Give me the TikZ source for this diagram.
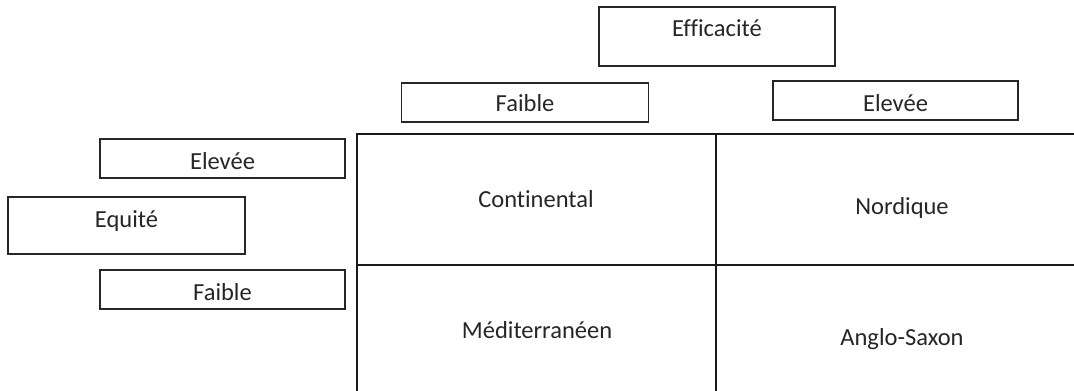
\documentclass[tikz,border=0pt]{standalone}
\usepackage{fontspec}
\setmainfont[Ligatures=NoCommon]{Carlito}
\begin{document}
\begin{tikzpicture}[x=1pt,y=-1pt,
  box/.style={draw=black!85, line width=1.4pt, inner sep=0pt, fill=white},
  cell/.style={draw=black!90, line width=1.4pt, inner sep=0pt},
  lbl/.style={font=\fontsize{24.5}{28}\selectfont, text=black!85, inner sep=0pt, anchor=base}]
\useasboundingbox (0,0) rectangle (1074,391);
\clip (0,0) rectangle (1074,391);
% matrix cells
\node[cell, minimum width=359pt, minimum height=131pt] (c11) at (536.5,199.5) {};
\node[cell, minimum width=372pt, minimum height=131pt] (c12) at (902,199.5) {};
\node[cell, minimum width=359pt, minimum height=134pt] (c21) at (536.5,332) {};
\node[cell, minimum width=372pt, minimum height=134pt] (c22) at (902,332) {};
\node[lbl] (t11) at (536,207) {Continental};
\node[lbl] (t12) at (902,214.7) {Nordique};
\node[lbl] (t21) at (537,338) {Méditerranéen};
\node[lbl] (t22) at (902,345) {Anglo-Saxon};
% header boxes
\node[box, minimum width=236pt, minimum height=59pt] (effb) at (717,36.5) {};
\node[lbl] (efft) at (717,36) {Efficacité};
\node[box, minimum width=247pt, minimum height=39pt] (fb) at (525,102.5) {};
\node[lbl] (ft) at (525,111) {Faible};
\node[box, minimum width=245pt, minimum height=39pt] (eb) at (895.5,100.5) {};
\node[lbl] (et) at (895.5,111.5) {Elevée};
% side boxes
\node[box, minimum width=245pt, minimum height=39pt] (leb) at (222.5,158.5) {};
\node[lbl] (let) at (222.5,169) {Elevée};
\node[box, minimum width=237pt, minimum height=57pt] (eqb) at (126.5,225.5) {};
\node[lbl] (eqt) at (126.5,227) {Equité};
\node[box, minimum width=245pt, minimum height=39pt] (lfb) at (222.5,289.5) {};
\node[lbl] (lft) at (222.5,300.5) {Faible};
\end{tikzpicture}
\end{document}
